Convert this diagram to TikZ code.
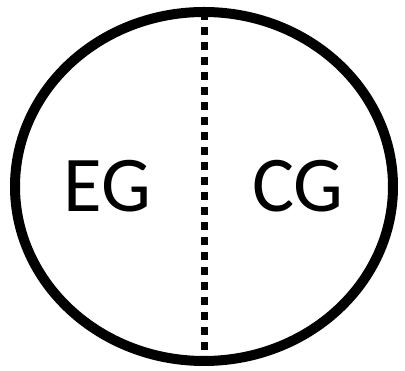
\documentclass[tikz,border=0pt]{standalone}
\usepackage{fontspec}
\setmainfont{Carlito}
\usetikzlibrary{shapes.geometric}
\begin{document}
\begin{tikzpicture}[x=1pt,y=1pt,
  rim/.style={line width=10pt},
  divider/.style={line width=7pt, dash pattern=on 8pt off 7pt},
  lbl/.style={font=\fontsize{79}{79}\selectfont, inner sep=0pt, anchor=center}]
\useasboundingbox (0,0) rectangle (405,371);
\coordinate (top) at (204,359);
\coordinate (bot) at (204,10);
\draw[divider] (top) -- (bot);
\node[draw, rim, ellipse, minimum width=378pt, minimum height=349pt, inner sep=0pt] (circ) at (204,184.5) {};
\node[lbl] (eg) at (107.5,184.5) {EG};
\node[lbl] (cg) at (298,184.5) {CG};
\end{tikzpicture}
\end{document}
